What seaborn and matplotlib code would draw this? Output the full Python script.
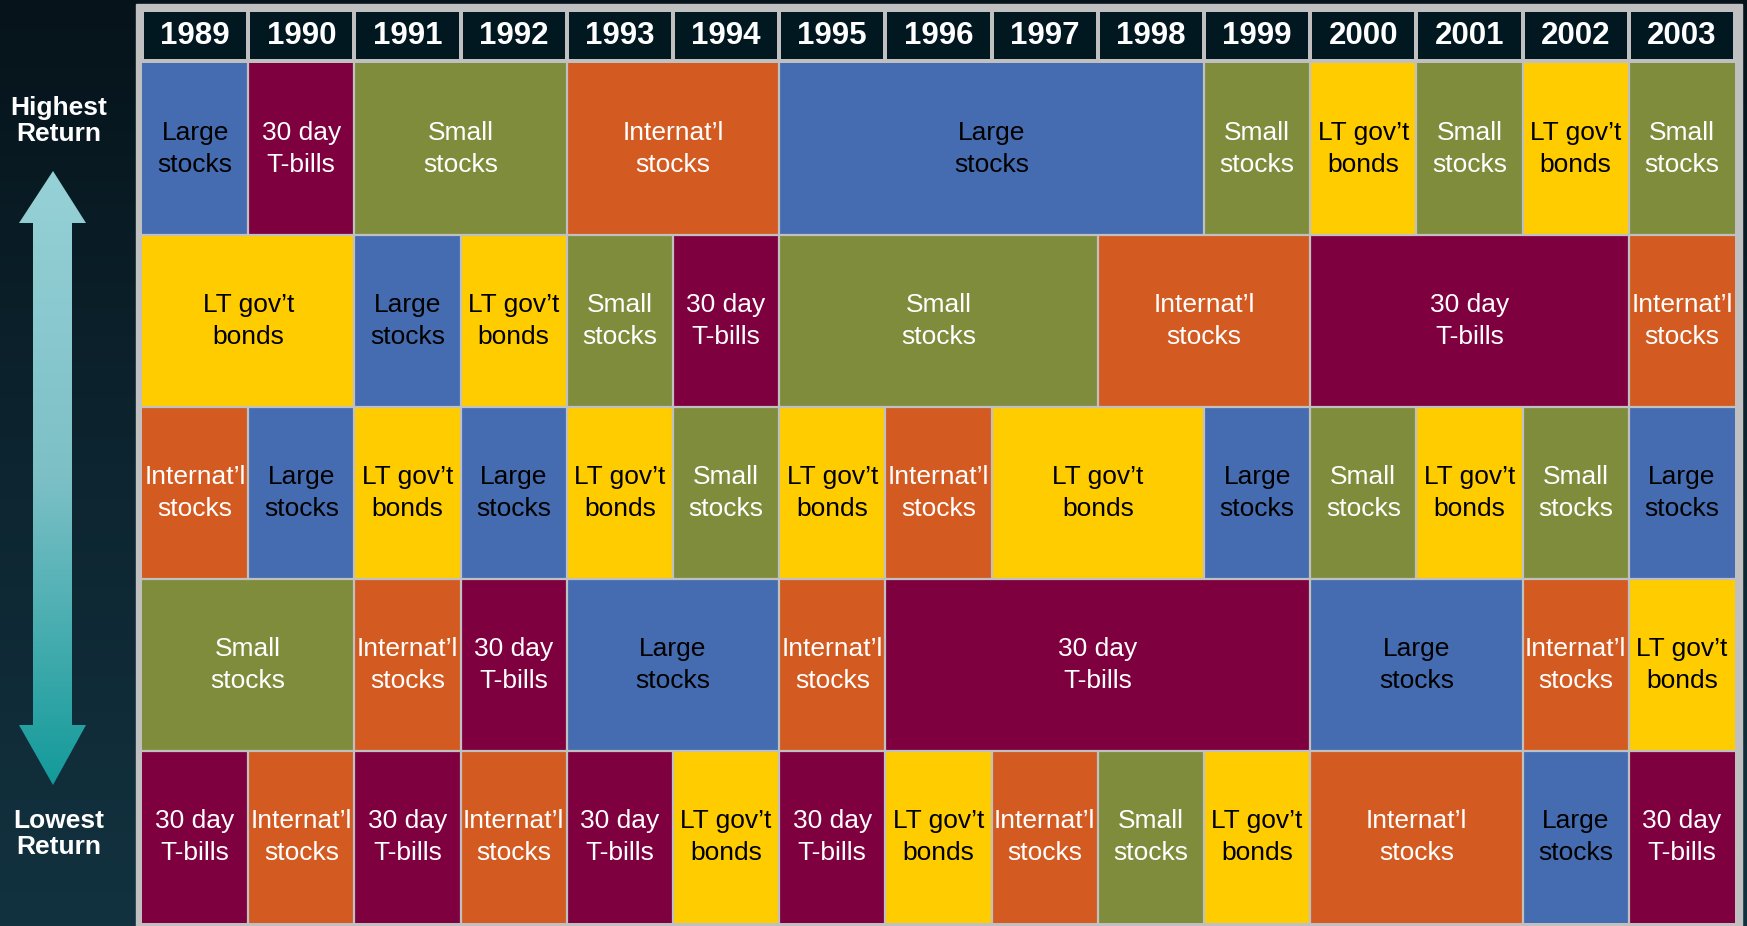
import matplotlib
matplotlib.use("Agg")
import matplotlib.pyplot as plt
import seaborn as sns
import numpy as np
from matplotlib.colors import ListedColormap, LinearSegmentedColormap
from matplotlib.patches import Rectangle, Polygon

# --- data: asset class ranking per year (rank 1 = highest return) ---
years = list(range(1989, 2004))
asset_classes = ["Large", "Small", "Intl", "LT", "Bills"]
class_labels = ["Large\nstocks", "Small\nstocks", "Internat\u2019l\nstocks",
                "LT gov\u2019t\nbonds", "30 day\nT-bills"]
class_colors = ["#456CB0", "#7F8C3C", "#D35A20", "#FFCC00", "#7F003F"]
text_colors = ["black", "white", "white", "black", "white"]

rank_1 = ["Large", "Bills", "Small", "Small", "Intl", "Intl", "Large", "Large",
          "Large", "Large", "Small", "LT", "Small", "LT", "Small"]
rank_2 = ["LT", "LT", "Large", "LT", "Small", "Bills", "Small", "Small",
          "Small", "Intl", "Intl", "Bills", "Bills", "Bills", "Intl"]
rank_3 = ["Intl", "Large", "LT", "Large", "LT", "Small", "LT", "Intl",
          "LT", "LT", "Large", "Small", "LT", "Small", "Large"]
rank_4 = ["Small", "Small", "Intl", "Bills", "Large", "Large", "Intl", "Bills",
          "Bills", "Bills", "Bills", "Large", "Large", "Intl", "LT"]
rank_5 = ["Bills", "Intl", "Bills", "Intl", "Bills", "LT", "Bills", "LT",
          "Intl", "Small", "LT", "Intl", "Intl", "Large", "Bills"]

ranks = [rank_1, rank_2, rank_3, rank_4, rank_5]
codes = np.array([[asset_classes.index(c) for c in row] for row in ranks])

sns.set_theme(style="white")
plt.rcParams["font.family"] = ["Liberation Sans", "DejaVu Sans"]

W, H = 1747, 926
fig = plt.figure(figsize=(W / 100, H / 100), dpi=100)

# --- background with gradient + arrow (pixel coords) ---
bg = fig.add_axes([0, 0, 1, 1])
bg_cmap = LinearSegmentedColormap.from_list("bg", ["#06131A", "#0D2530", "#12323F"])
bg.imshow(np.linspace(0, 1, 256).reshape(-1, 1), cmap=bg_cmap,
          extent=[0, W, H, 0], aspect="auto")

arrow_pts = [(53, 171), (86, 223), (72, 223), (72, 725), (86, 725), (53, 785),
             (19, 725), (33, 725), (33, 223), (19, 223)]
arrow = Polygon(arrow_pts, closed=True, facecolor="none", edgecolor="none")
bg.add_patch(arrow)
arrow_cmap = LinearSegmentedColormap.from_list("arr", ["#96D1D7", "#7CC0C6", "#139A9A"])
img = bg.imshow(np.linspace(0, 1, 256).reshape(-1, 1), cmap=arrow_cmap,
                extent=[19, 86, 785, 171], aspect="auto")
img.set_clip_path(arrow)

bg.add_patch(Rectangle((136, 4), 1606, 930, color="#C0C0C0"))

bg.text(59, 121, "Highest\nReturn", ha="center", va="center", color="white",
        fontsize=19, fontweight="bold", linespacing=1.15)
bg.text(59, 834, "Lowest\nReturn", ha="center", va="center", color="white",
        fontsize=19, fontweight="bold", linespacing=1.15)
bg.set_xlim(0, W)
bg.set_ylim(H, 0)
bg.axis("off")

# --- header row with years ---
hx = fig.add_axes([142 / W, 1 - 61 / H, 1593 / W, 51 / H])
sns.heatmap(np.zeros((1, len(years))), ax=hx, cmap=ListedColormap(["#021820"]),
            cbar=False, linewidths=1.6, linecolor="#C0C0C0",
            annot=np.array([[str(y) for y in years]]), fmt="",
            annot_kws=dict(color="white", fontsize=22.5, fontweight="bold"),
            xticklabels=False, yticklabels=False)

# --- ranking grid ---
gx = fig.add_axes([142 / W, 1 - 923 / H, 1593 / W, 860 / H])
sns.heatmap(codes, ax=gx, cmap=ListedColormap(class_colors), vmin=-0.5, vmax=4.5,
            cbar=False, xticklabels=False, yticklabels=False)

line_kw = dict(color="#C0C0C0", linewidth=1.6)
gx.hlines(range(1, len(ranks)), 0, len(years), **line_kw)

for r, row in enumerate(ranks):
    start = 0
    for j in range(1, len(years) + 1):
        if j == len(years) or row[j] != row[start]:
            k = asset_classes.index(row[start])
            gx.text((start + j) / 2, r + 0.5, class_labels[k], ha="center",
                    va="center", color=text_colors[k], fontsize=19, linespacing=1.4)
            if j < len(years):
                gx.vlines(j, r, r + 1, **line_kw)
            start = j

fig.savefig("out.png", dpi=100)
